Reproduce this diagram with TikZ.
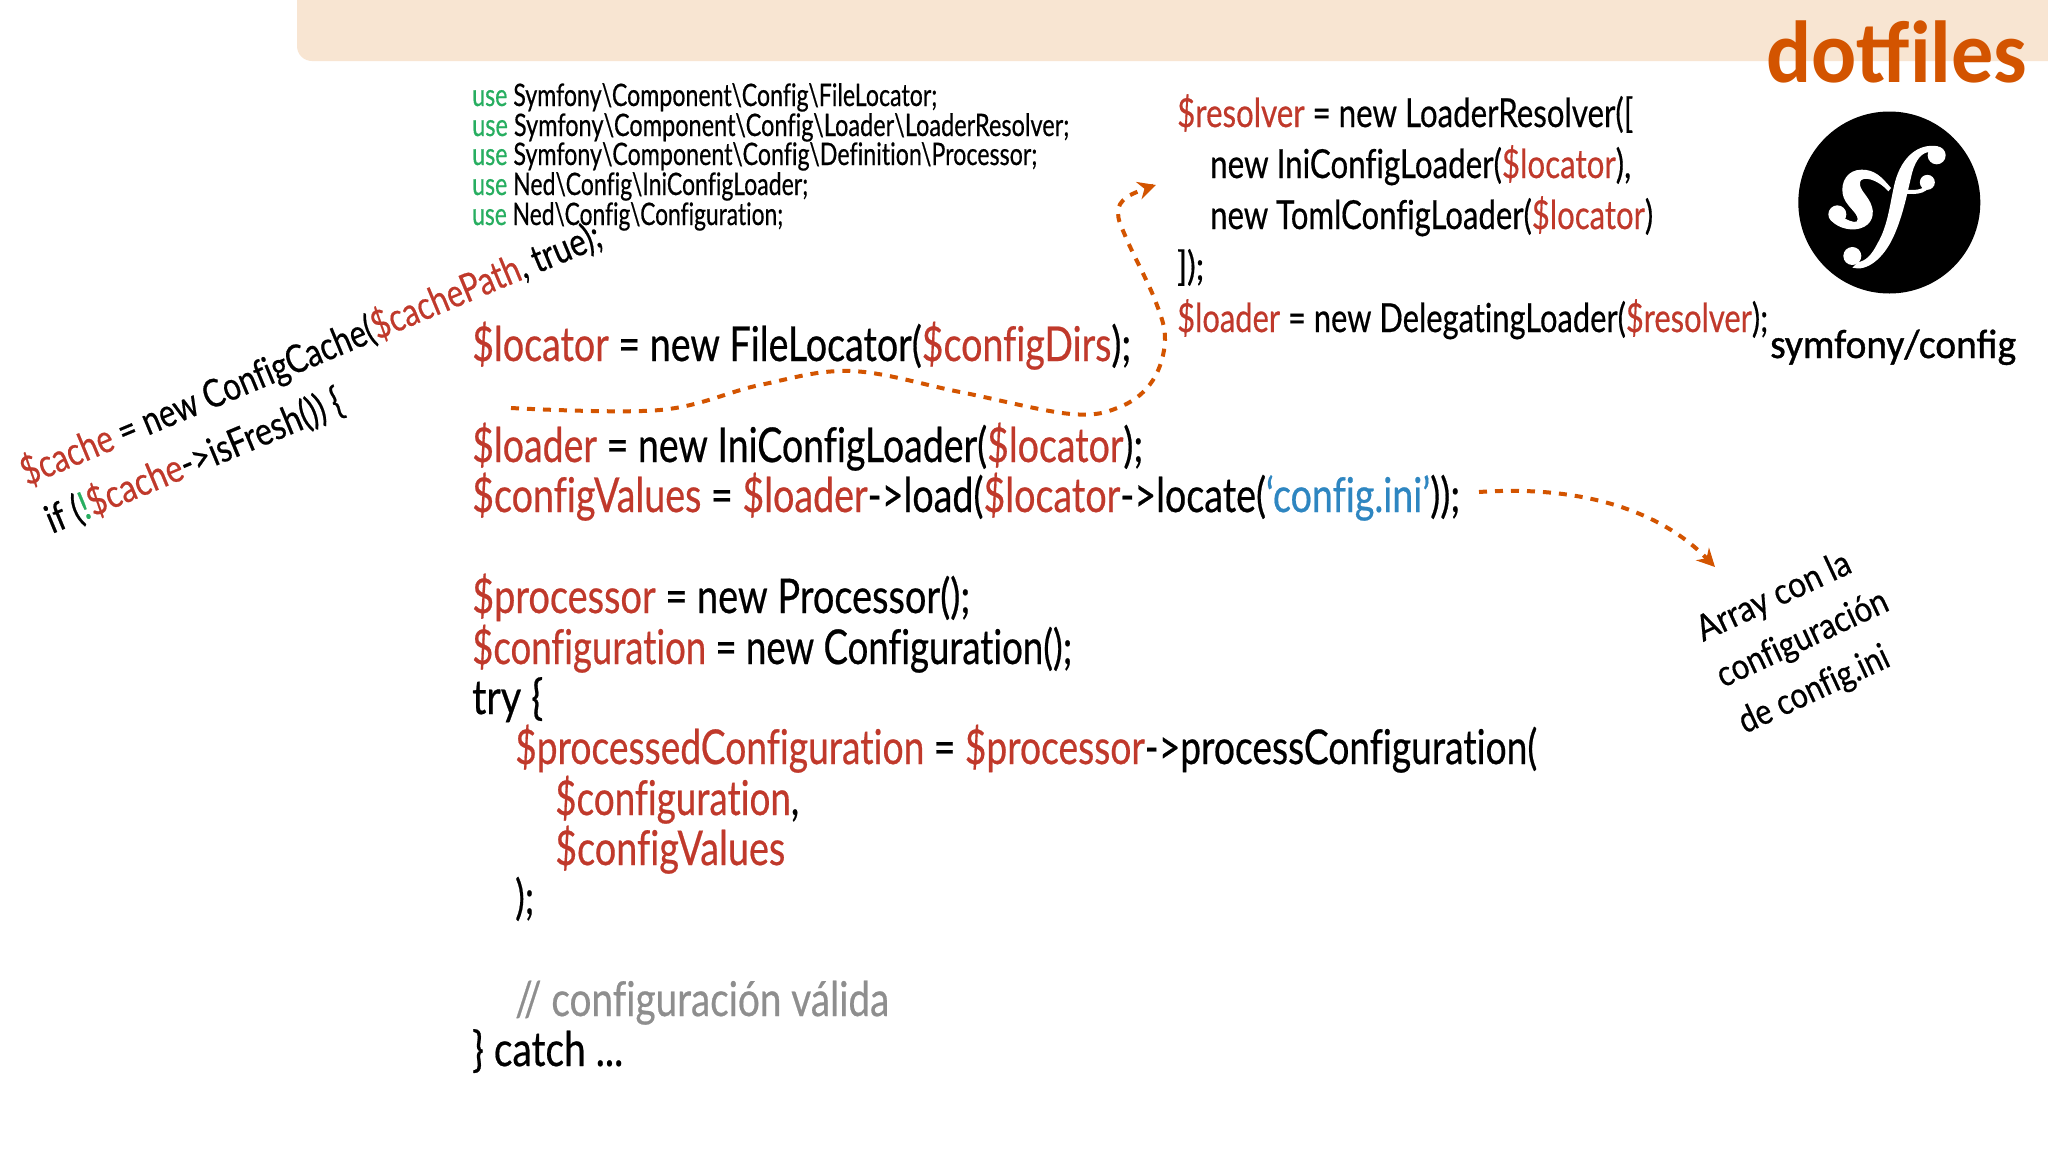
\documentclass[tikz,border=0pt]{standalone}
\usepackage{fontspec}
\setmainfont{Lato}[Ligatures=NoCommon,FakeStretch=0.9]
\newfontfamily\calib{Carlito}
\usetikzlibrary{arrows.meta}
\definecolor{codered}{HTML}{C0392B}
\definecolor{codegreen}{HTML}{27AE60}
\definecolor{codeblue}{HTML}{2E86C1}
\definecolor{dashorange}{HTML}{D35400}
\definecolor{bannerfill}{HTML}{F8E5D2}
\definecolor{commentgray}{HTML}{8E8E8E}
\newcommand\R[1]{\textcolor{codered}{#1}}
\newcommand\G[1]{\textcolor{codegreen}{#1}}
\newcommand\B[1]{\textcolor{codeblue}{#1}}
\newcommand\bs{\textbackslash}
\newcommand\heavy{\addfontfeature{FakeBold=0.5}}
\newcommand\cl[6][]{\node[codetext,#1] (#2) at (#3,#4) {\resizebox{#5pt}{\height}{#6}};}
\tikzset{
  codetext/.style={inner sep=0pt,anchor=base west,font=\fontsize{48}{54}\selectfont\heavy},
  smallcode/.style={font=\fontsize{31}{35}\selectfont\heavy},
  sidecode/.style={font=\fontsize{40}{45}\selectfont\heavy},
  slantcode/.style={font=\fontsize{39}{43}\selectfont\heavy,rotate=22.6},
  notetext/.style={font=\fontsize{36}{40}\selectfont\heavy,rotate=25},
  dasharrow/.style={draw=dashorange,line width=4pt,dash pattern=on 8pt off 8pt,
    -{Stealth[length=18pt,width=18pt,fill=dashorange]}},
}
\begin{document}
\begin{tikzpicture}[x=1pt,y=-1pt]
\useasboundingbox (0,0) rectangle (2048,1152);
\fill[white] (0,0) rectangle (2048,1152);
% banner
\fill[bannerfill] (297,-20) -- (2048,-20) -- (2048,61) -- (312,61) arc[start angle=270,end angle=180,radius=15pt] -- cycle;
\node[codetext,font=\calib\bfseries\fontsize{88}{94}\selectfont,text=dashorange] (title) at (1766,82) {\resizebox{261pt}{\height}{dotfiles}};
% use lines
\cl[smallcode]{u1}{472}{106}{465}{\G{use} Symfony\bs Component\bs Config\bs FileLocator;}
\cl[smallcode]{u2}{472}{136}{597}{\G{use} Symfony\bs Component\bs Config\bs Loader\bs LoaderResolver;}
\cl[smallcode]{u3}{472}{165}{565}{\G{use} Symfony\bs Component\bs Config\bs Definition\bs Processor;}
\cl[smallcode]{u4}{472}{195}{336}{\G{use} Ned\bs Config\bs IniConfigLoader;}
\cl[smallcode]{u5}{472}{225}{311}{\G{use} Ned\bs Config\bs Configuration;}
% main code
\cl{m1}{472}{361}{659}{\R{\$locator} = new FileLocator(\R{\$configDirs});}
\cl{m2}{472}{462}{671}{\R{\$loader} = new IniConfigLoader(\R{\$locator});}
\cl{m3}{472}{512}{988}{\R{\$configValues} = \R{\$loader}->load(\R{\$locator}->locate(\B{`config.ini'}));}
\cl{m4}{472}{613}{498}{\R{\$processor} = new Processor();}
\cl{m5}{472}{664}{600}{\R{\$configuration} = new Configuration();}
\cl{m6}{472}{714}{71}{try \{}
\cl{m7}{515}{764}{1022}{\R{\$processedConfiguration} = \R{\$processor}->processConfiguration(}
\cl{m8}{555}{815}{244}{\R{\$configuration},}
\cl{m9}{555}{865}{230}{\R{\$configValues}}
\cl{m10}{515}{914}{19}{);}
\cl{m11}{515}{1016}{374}{\textcolor{commentgray}{// configuración válida}}
\cl{m12}{472}{1066}{151}{\} catch ...}
% side code
\cl[sidecode]{s1}{1177}{127}{456}{\R{\$resolver} = new LoaderResolver([}
\cl[sidecode]{s2}{1210}{178}{421}{new IniConfigLoader(\R{\$locator}),}
\cl[sidecode]{s3}{1210}{229}{443}{new TomlConfigLoader(\R{\$locator})}
\cl[sidecode]{s4}{1177}{280}{27}{]);}
\cl[sidecode]{s5}{1177}{332}{591}{\R{\$loader} = new DelegatingLoader(\R{\$resolver});}
% slanted code
\cl[slantcode]{c1}{27}{486}{625}{\R{\$cache} = new ConfigCache(\R{\$cachePath}, true);}
\cl[slantcode]{c2}{52}{534}{318}{if (\G{!}\R{\$cache}->isFresh()) \{}
% notes
\cl[notetext]{n1}{1703}{642}{166}{Array con la}
\cl[notetext]{n2}{1723}{688}{185}{configuración}
\cl[notetext]{n3}{1745}{734}{162}{de config.ini}
% logo
\fill[black] (1889.3,202.5) circle[radius=91pt];
\begin{scope}[shift={(1790,102)},x=0.3333pt,y=-0.3333pt]
 \fill[white] (445,133) .. controls (385,122) and (335,165) .. (315,240) .. controls (300,300) and (295,370) .. (262,425) .. controls (245,460) and (225,478) .. (205,480) -- (187,497) .. controls (230,510) and (280,470) .. (310,405) .. controls (340,340) and (352,270) .. (367,210) .. controls (377,175) and (395,150) .. (420,150) -- cycle;
 \fill[white] (440,160) circle[radius=9pt] (187,462) circle[radius=9pt] (142,337) circle[radius=9pt] (412,241) circle[radius=7.5pt];
 \draw[white,line width=4pt] (340,268) .. controls (385,275) and (420,265) .. (412,235);
 \fill[white] (303,258) .. controls (275,225) and (255,203) .. (215,203) .. controls (172,203) and (152,240) .. (158,275) .. controls (163,310) and (203,330) .. (203,352) .. controls (203,365) and (185,360) .. (165,350) -- (118,340) .. controls (120,365) and (160,385) .. (195,382) .. controls (240,378) and (255,345) .. (246,315) .. controls (236,280) and (206,265) .. (210,240) .. controls (215,222) and (260,228) .. (295,268) -- cycle;
\end{scope}
\node[codetext,font=\calib\fontsize{41}{45}\selectfont\addfontfeature{FakeBold=1}] (sc) at (1770,358) {\resizebox{246pt}{\height}{symfony/config}};
% arrows
\coordinate (a1s) at (511,408);
\coordinate (a1e) at (1156,185);
\coordinate (a2s) at (1479,492);
\coordinate (a2e) at (1715,567);
\draw[dasharrow] plot[smooth,tension=0.6] coordinates {(a1s) (660,410) (760,385) (851,371) (960,392) (1071,414) (1122,406) (1153,380) (1165,340) (1155,300) (1127,240) (1118,213) (1127,197) (a1e)};
\draw[dasharrow] (a2s) .. controls (1580,485) and (1660,510) .. (a2e);
\end{tikzpicture}
\end{document}
